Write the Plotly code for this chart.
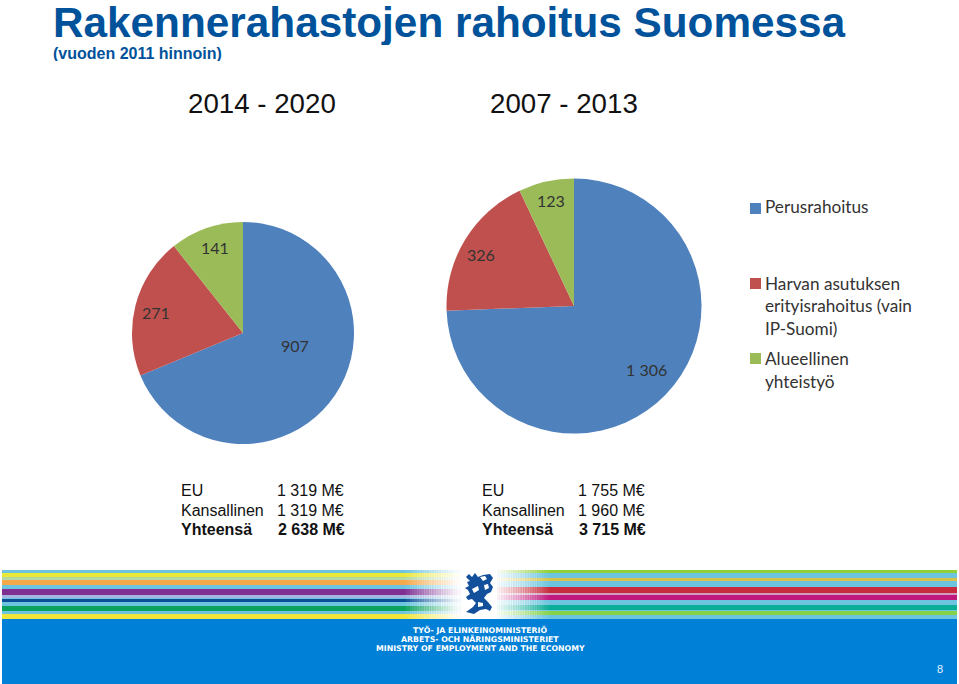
import plotly.graph_objects as go

W, H = 959, 684
title = "Rakennerahastojen rahoitus Suomessa"
subtitle = "(vuoden 2011 hinnoin)"
periods = ["2014 - 2020", "2007 - 2013"]
values_2014 = [907, 271, 141]
values_2007 = [1306, 326, 123]
labels_2014 = ["907", "271", "141"]
labels_2007 = ["1 306", "326", "123"]
colors = ["#4f81bd", "#c0504d", "#9bbb59"]
legend_1 = ["Perusrahoitus"]
legend_2 = ["Harvan asutuksen", "erityisrahoitus (vain", "IP-Suomi)"]
legend_3 = ["Alueellinen", "yhteistyö"]
funding_names = ["EU", "Kansallinen", "Yhteensä"]
funding_2014 = ["1 319 M€", "1 319 M€", "2 638 M€"]
funding_2007 = ["1 755 M€", "1 960 M€", "3 715 M€"]
ministry = ["TYÖ- JA ELINKEINOMINISTERIÖ", "ARBETS- OCH NÄRINGSMINISTERIET", "MINISTRY OF EMPLOYMENT AND THE ECONOMY"]
page_number = "8"

def px(x): return x / W
def py(y): return 1 - y / H

def pie(vals, cx, cy, r):
    return go.Pie(values=vals, sort=False, direction="clockwise", rotation=0,
                  marker=dict(colors=colors, line=dict(width=0)), textinfo="none",
                  hoverinfo="skip", showlegend=False,
                  domain=dict(x=[px(cx - r), px(cx + r)], y=[py(cy + r), py(cy - r)]))

fig = go.Figure([pie(values_2014, 243, 333, 111), pie(values_2007, 574, 306, 127.5)])

ann = []
def text(x, y, s, size, color="#000000", font="Liberation Sans", anchor="left", height=None):
    a = dict(x=px(x), y=py(y), xref="paper", yref="paper", text=s, showarrow=False,
             xanchor=anchor, yanchor="middle", align="left", xshift=-2,
             font=dict(size=size, color=color, family=font))
    if height:
        a["height"] = height
    ann.append(a)

text(53, 22, f"<b>{title}</b>", 42.3, "#00529b", height=46)
text(53, 53, f"<b>{subtitle}</b>", 16, "#00529b", height=16)
text(188, 103, periods[0], 27.7, "#111111")
text(490, 103, periods[1], 27.7, "#111111")

lbl = "Lato"
num = 16
text(281, 345, labels_2014[0], num, "#333333", lbl)
text(142, 312, labels_2014[1], num, "#333333", lbl)
text(201, 247, labels_2014[2], num, "#333333", lbl)
text(626, 369, labels_2007[0], num, "#333333", lbl)
text(467, 255, labels_2007[1], num, "#333333", lbl)
text(537, 200, labels_2007[2], num, "#333333", lbl)

shapes = []
def rect(x0, y0, x1, y1, color, op=1):
    shapes.append(dict(type="rect", xref="paper", yref="paper", x0=px(x0), x1=px(x1),
                       y0=py(y1), y1=py(y0), fillcolor=color, opacity=op, line=dict(width=0), layer="above"))

leg = 17.2
rect(750, 203, 761, 214, colors[0]); text(765, 207, legend_1[0], leg, "#333333", lbl)
rect(750, 278, 761, 289, colors[1])
rect(750, 353, 761, 364, colors[2])
for i, s in enumerate(legend_2):
    text(765, 283 + i * 22.5, s, leg, "#333333", lbl)
for i, s in enumerate(legend_3):
    text(765, 358 + i * 23.5, s, leg, "#333333", lbl)

for col_x, val_x, vals in [(181, 277, funding_2014), (482, 578, funding_2007)]:
    for i in range(3):
        y = 490.5 + i * 19.5
        n, v = funding_names[i], vals[i]
        if i == 2:
            n, v = f"<b>{n}</b>", f"<b>{v}</b>"
        text(col_x, y, n, 16, "#111111")
        text(val_x + (1 if i == 2 else 0), y, v, 16, "#111111")

# footer band and stripes
rect(2, 570, 957, 619, "#6cc4de")
rect(2, 619, 957, 684, "#0080d6")
left = [(573, 577.5, "#ece83a"), (577.5, 580, "#b8d8a8"), (580, 585, "#f5a94a"), (589, 595, "#7f2f92"),
        (595, 598, "#a6b4e0"), (599, 602, "#0b4f96"), (606, 611, "#0aa25f"), (614, 619, "#f0e53a")]
right = [(570, 573, "#8fd136"), (578, 581, "#d8c24a"), (587, 593, "#c82c3c"), (593, 595, "#d0a0c0"),
         (595, 600, "#c0187c"), (605, 610, "#0aad96"), (611, 615, "#86d24a")]
for y0, y1, c in left:
    rect(2, y0, 465, y1, c)
for y0, y1, c in right:
    rect(490, y0, 957, y1, c)
# white fades toward the central crest
steps = 24
for i in range(steps):
    a = (i + 1) / steps
    rect(405 + i * 2.4, 570, 408 + i * 2.4, 619, "#ffffff", a)
    rect(546 - i * 2.4, 570, 549 - i * 2.4, 619, "#ffffff", a)
rect(462, 570, 497, 619, "#ffffff")

# crest (simplified silhouette)
def path(d, color):
    out = []
    for t in d.split():
        if t[0] in "ML":
            a, b = t[1:].split(",")
            out.append(f"{t[0]}{px(float(a)):.5f},{py(float(b)):.5f}")
        else:
            out.append(t)
    shapes.append(dict(type="path", xref="paper", yref="paper", path=" ".join(out),
                       fillcolor=color, line=dict(width=0), layer="above"))

path("M466,577 L469,574 L472,577 L475,573 L478,577 L483,575 L490,574 L493,578 L490,583 L493,587 L491,592 "
     "L487,594 L484,598 L488,602 L492,607 L490,611 L486,609 L480,610 L474,614 L466,612 L473,607 L476,603 "
     "L472,599 L468,600 L466,597 L470,594 L468,590 L465,588 L469,586 L467,582 L470,581 Z", "#12509c")
path("M480,577 L485,576 L487,579 L483,581 Z", "#ffffff")
path("M484,585 L488,584 L489,588 L485,590 Z", "#ffffff")
path("M472,589 L478,586 L479,590 L474,593 Z", "#ffffff")
path("M478,602 L483,603 L483,606 L478,607 Z", "#ffffff")

ministry_y = [629.5, 639, 648.5]
for y, s in zip(ministry_y, ministry):
    text(482, y, f"<b>{s}</b>", 7.8, "#ffffff", "DejaVu Sans", "center")
text(942, 669, page_number, 11, "#e8f4ff", "Liberation Sans", "center")

fig.update_layout(width=W, height=H, margin=dict(l=0, r=0, t=0, b=0), paper_bgcolor="white",
                  plot_bgcolor="white", annotations=ann, shapes=shapes, showlegend=False)
fig.write_html("out.html", config=dict(displayModeBar=False),
               post_script="document.body.style.margin='0';document.body.style.overflow='hidden';")
